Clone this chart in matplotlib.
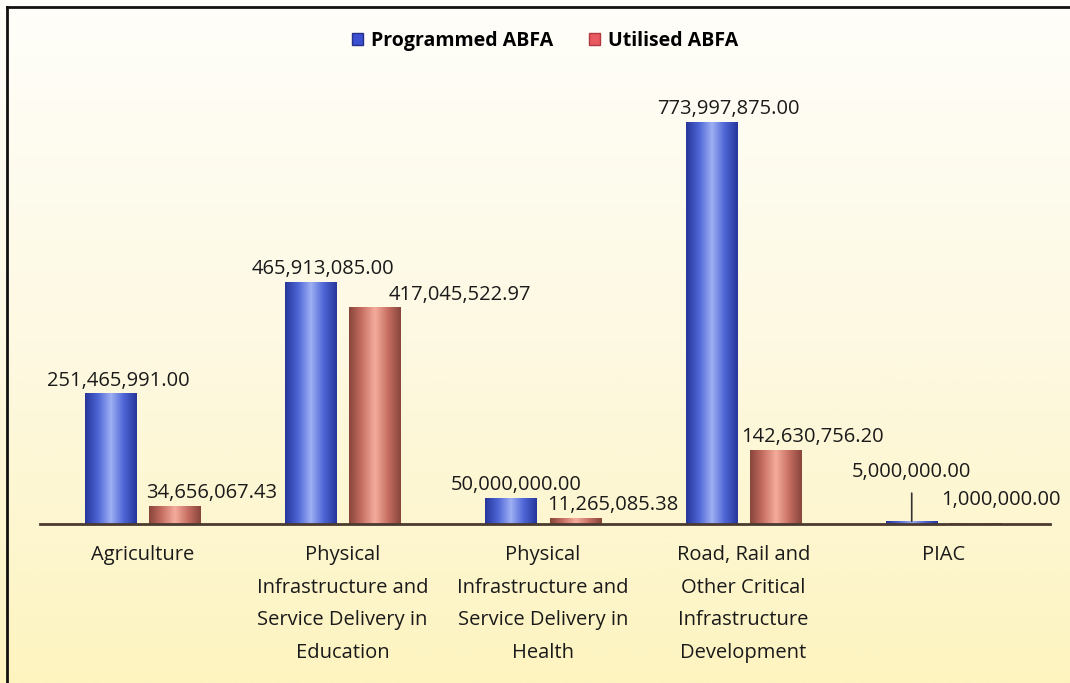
import numpy as np
import matplotlib.pyplot as plt
from matplotlib.colors import LinearSegmentedColormap

categories = ['Agriculture',
              'Physical\nInfrastructure and\nService Delivery in\nEducation',
              'Physical\nInfrastructure and\nService Delivery in\nHealth',
              'Road, Rail and\nOther Critical\nInfrastructure\nDevelopment',
              'PIAC']
programmed = [251465991.00, 465913085.00, 50000000.00, 773997875.00, 5000000.00]
utilised = [34656067.43, 417045522.97, 11265085.38, 142630756.20, 1000000.00]

plt.rcParams['font.family'] = ['Open Sans', 'DejaVu Sans']

fig = plt.figure(figsize=(10.7, 6.83), dpi=100)

# scanned-paper background: white at top fading to pale yellow
bg = fig.add_axes([0, 0, 1, 1], zorder=-10)
grad = np.linspace(0, 1, 256).reshape(-1, 1)
bg_cmap = LinearSegmentedColormap.from_list('paper', ['#fffefa', '#fdf9e2', '#fdf4c0'])
bg.imshow(grad, aspect='auto', cmap=bg_cmap, extent=[0, 1, 0, 1], origin='upper')
bg.set_xlim(0, 1)
bg.set_ylim(0, 1)
bg.axis('off')
# border box (left and top edges visible)
bg.plot([7 / 1070, 7 / 1070], [-0.1, 1 - 7 / 683], color='#111111', lw=2)
bg.plot([7 / 1070, 1.1], [1 - 7 / 683, 1 - 7 / 683], color='#111111', lw=2)

ax = fig.add_axes([40 / 1070, 159 / 683, 1010 / 1070, 464 / 683])
ax.patch.set_alpha(0)

x = np.arange(len(categories))
w = 0.255
off = 0.16

blue_cmap = LinearSegmentedColormap.from_list('b', ['#27379c', '#4e66d6', '#9fb0f4', '#4e66d6', '#27379c'])
red_cmap = LinearSegmentedColormap.from_list('r', ['#8a463c', '#c87064', '#f4ad9c', '#c87064', '#8a463c'])

b1 = ax.bar(x - off, programmed, w, color='#4a5fd0', label='Programmed ABFA')
b2 = ax.bar(x + off, utilised, w, color='#e05a5a', label='Utilised ABFA')

hgrad = np.linspace(0, 1, 64).reshape(1, -1)
for bars, cm in ((b1, blue_cmap), (b2, red_cmap)):
    for r in bars:
        r.set_facecolor('none')
        xx, yy = r.get_x(), r.get_y()
        im = ax.imshow(hgrad, cmap=cm, aspect='auto',
                       extent=[xx, xx + r.get_width(), yy, yy + r.get_height()],
                       zorder=2)
        im.set_clip_path(r)

ax.set_xlim(-0.51, 4.53)
ax.set_ylim(0, 893e6)

fs = 14.5
# value labels
blue_dx = [6, 9, 4, 12]
red_dx = [27, 61, 27, 27]
for i in range(4):
    ax.annotate(f'{programmed[i]:,.2f}', xy=(x[i] - off, programmed[i]), xytext=(blue_dx[i], 2),
                textcoords='offset points', ha='center', va='bottom',
                fontsize=fs, color='#1a1a1a')
    ax.annotate(f'{utilised[i]:,.2f}', xy=(x[i] + off, utilised[i]), xytext=(red_dx[i], 2),
                textcoords='offset points', ha='center', va='bottom',
                fontsize=fs, color='#1a1a1a')

# PIAC labels (tiny bars), with a vertical leader line
ax.annotate(f'{programmed[4]:,.2f}', xy=(x[4] - off, programmed[4]),
            xytext=(x[4] - off, 100e6), ha='center', va='center',
            fontsize=fs, color='#1a1a1a',
            arrowprops=dict(arrowstyle='-', color='#333333', lw=1.2,
                            shrinkA=6, shrinkB=0))
ax.annotate(f'{utilised[4]:,.2f}', xy=(x[4] + off, utilised[4]),
            xytext=(x[4] + off + 0.125, 46e6), ha='center', va='center',
            fontsize=fs, color='#1a1a1a')

for s in ['top', 'right', 'left']:
    ax.spines[s].set_visible(False)
ax.spines['bottom'].set_color('#4a3a30')
ax.spines['bottom'].set_linewidth(2)
ax.set_yticks([])
ax.set_xticks(x)
ax.set_xticklabels(categories, fontsize=fs, color='#1a1a1a', linespacing=1.85)
ax.tick_params(axis='x', length=0, pad=15)

leg = ax.legend(loc='upper center', bbox_to_anchor=(0.5, 1.1), ncol=2,
                frameon=False, prop={'weight': 'bold', 'size': 14},
                handlelength=0.6, handleheight=0.6, columnspacing=1.8, handletextpad=0.4)
leg.legend_handles[0].set_facecolor('#3a50d0')
leg.legend_handles[0].set_edgecolor('#26308a')
leg.legend_handles[1].set_facecolor('#e85a60')
leg.legend_handles[1].set_edgecolor('#b03a40')

fig.savefig('out.png', dpi=100)
